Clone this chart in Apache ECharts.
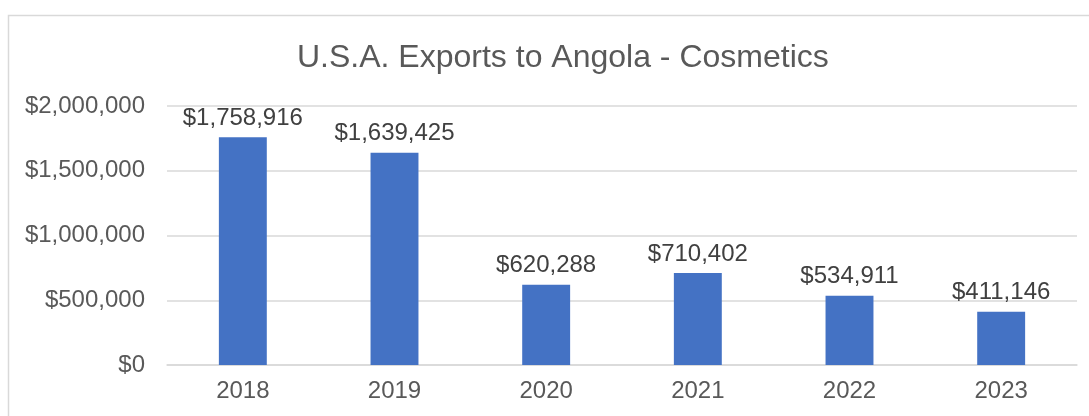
<!DOCTYPE html>
<html lang="en">
<head>
<meta charset="utf-8">
<title>U.S.A. Exports to Angola - Cosmetics</title>
<script src="https://cdn.jsdelivr.net/npm/echarts@6/dist/echarts.min.js"></script>
<style>
  html, body { margin: 0; padding: 0; background: #fff; }
  #main { width: 1089px; height: 416px; }
</style>
</head>
<body>
<div id="main"></div>
<script>
// data
const years = ['2018', '2019', '2020', '2021', '2022', '2023'];
const exportsUsd = [1758916, 1639425, 620288, 710402, 534911, 411146];

function money(v) {
    return '$' + Number(v).toLocaleString('en-US');
}

const chart = echarts.init(document.getElementById('main'));

const option = {
    animation: false,
    textStyle: { fontFamily: 'Liberation Sans, Arial, sans-serif' },
    // chart area border (Excel style)
    graphic: [{
        type: 'rect',
        shape: { x: 8.5, y: 15.5, width: 1100, height: 500 },
        style: { fill: 'none', stroke: '#d9d9d9', lineWidth: 1.5 },
        silent: true
    }],
    title: {
        text: 'U.S.A. Exports to Angola - Cosmetics',
        left: 292,
        top: 37,
        textStyle: { fontSize: 32, fontWeight: 'normal', color: '#595959' }
    },
    grid: { left: 167, right: 12, top: 106, bottom: 51 },
    xAxis: {
        type: 'category',
        data: years,
        axisLine: { lineStyle: { color: '#d9d9d9', width: 1.5 } },
        axisTick: { show: false },
        axisLabel: { fontSize: 24, color: '#595959', margin: 14 }
    },
    yAxis: {
        type: 'value',
        min: 0,
        max: 2000000,
        interval: 500000,
        axisLine: { show: false },
        axisTick: { show: false },
        splitLine: { lineStyle: { color: '#d9d9d9', width: 1.5 } },
        axisLabel: { fontSize: 24, color: '#595959', margin: 22, formatter: money }
    },
    series: [{
        type: 'bar',
        data: exportsUsd,
        barWidth: '31.6%',
        itemStyle: { color: '#4472c4' },
        label: {
            show: true,
            position: 'top',
            distance: 7,
            fontSize: 24,
            color: '#404040',
            formatter: p => money(p.value)
        }
    }]
};

chart.setOption(option);
</script>
</body>
</html>
